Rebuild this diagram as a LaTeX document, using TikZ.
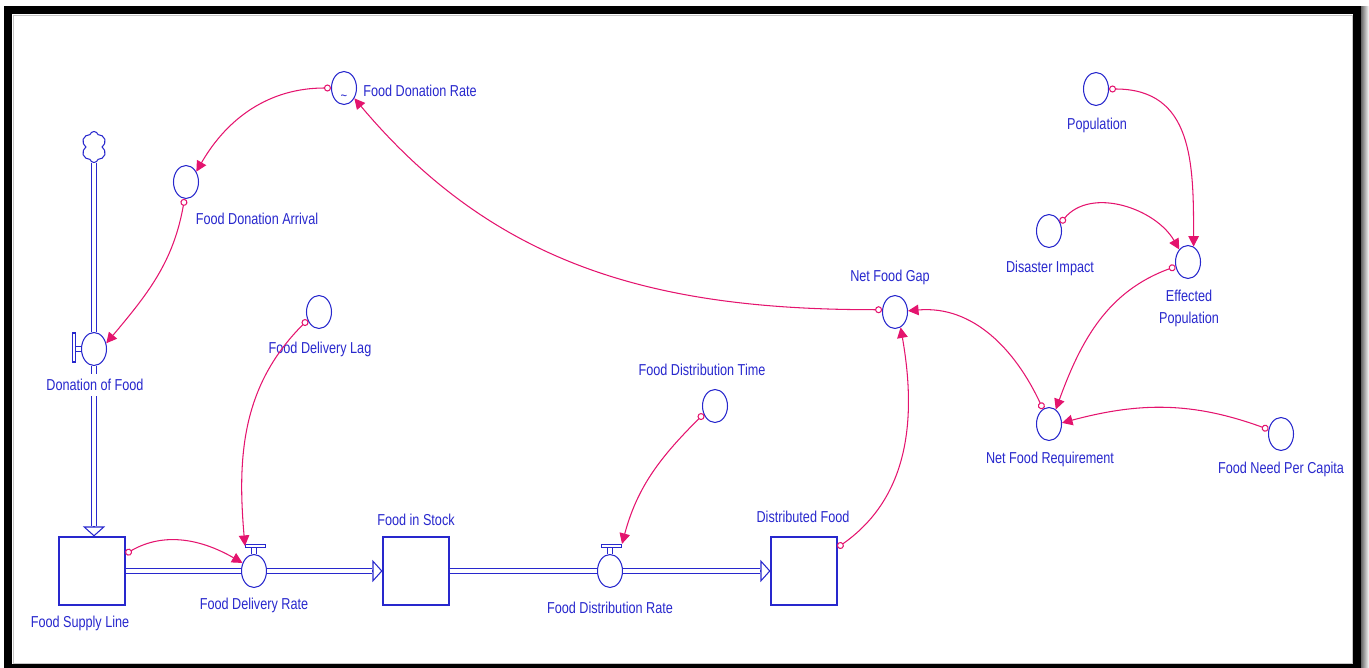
\documentclass[tikz,border=0pt]{standalone}
\usepackage{fontspec}
\setmainfont{Liberation Sans}[FakeStretch=0.8]
\usetikzlibrary{arrows.meta, positioning, shapes.geometric, shapes.symbols, calc}
\definecolor{sdblue}{RGB}{40,40,205}
\definecolor{sdpink}{RGB}{228,20,110}
\tikzset{
  stock/.style   = {rectangle, draw=sdblue, line width=0.6pt, fill=white,
                    minimum width=1.32cm, minimum height=1.36cm},
  aux/.style     = {ellipse, draw=sdblue, line width=0.6pt, fill=white,
                    minimum width=0.5cm, minimum height=0.66cm, inner sep=0pt},
  tap/.style     = {rectangle, draw=sdblue, line width=0.6pt, fill=white, inner sep=0pt,
                    minimum width=0.4cm, minimum height=0.06cm},
  vtap/.style    = {tap, minimum width=0.06cm, minimum height=0.58cm},
  source/.style  = {cloud, cloud puffs=6, cloud ignores aspect, draw=sdblue, line width=0.6pt,
                    minimum width=0.5cm, minimum height=0.62cm, inner sep=0pt},
  flow/.style    = {draw=sdblue, line width=0.6pt, double=white, double distance=2.6pt},
  flowend/.style = {flow, shorten >=0.2cm},
  flowtip/.style = {draw=sdblue, line width=0.6pt, -{Triangle[open, length=0.2cm, width=0.44cm]}},
  stem/.style    = {draw=sdblue, line width=0.5pt, double=white, double distance=2pt},
  link/.style    = {draw=sdpink, line width=0.6pt, {Circle[open, length=4pt]}-{Triangle[length=6pt, width=6pt]}},
  lbl/.style     = {text=sdblue, inner sep=1pt, align=center},
}
\begin{document}
\begin{tikzpicture}[x=0.02cm, y=0.02cm, every node/.style={font=\fontsize{9}{12.5}\selectfont}]
  \useasboundingbox (0,0) rectangle (1369,667);
  % frame
  \begin{scope}
    \clip (0,0) rectangle (1369,667);
    \shade[left color=black!60, right color=white] (1361,-5) rectangle (1369,660);
    \draw[line width=0.16cm] (8,-1) rectangle (1357,657);
    \draw[gray!45, line width=0.4pt] (13,4) rectangle (1352,652);
  \end{scope}

  % stocks
  \node[stock] (fsl) at (92,96) {};
  \node[stock] (fis) at (416,96) {};
  \node[stock] (dfood) at (804,96) {};

  % valves
  \node[aux] (dof) at (94,318) {};
  \node[aux] (fdr) at (254,96) {};
  \node[aux] (fdsr) at (610,96) {};
  \node[vtap, left=0.1cm of dof, yshift=0.03cm] (doftap) {};
  \node[tap, above=0.12cm of fdr, xshift=0.03cm] (fdrtap) {};
  \node[tap, above=0.12cm of fdsr, xshift=0.03cm] (fdsrtap) {};
  \node[source] (src) at (94,520) {};

  % auxiliaries
  \foreach \n/\x/\y in {fdrate/344/579, fdarr/186/485, fdlag/319/355, fdtime/715/261,
                        nfgap/895/355, pop/1096/578, dimp/1049/436, epop/1188/405,
                        nfreq/1049/243, fnpc/1281/233} {
    \node[aux] (\n) at (\x,\y) {};
  }
  \node[text=sdblue, inner sep=0pt, font=\fontsize{8}{8}\selectfont] (fdratetl) at (344,569) {\textasciitilde};

  % pipes
  \draw[flow] (src.south) -- (dof.north);
  \coordinate (fslin) at (dof.south |- fsl.north);
  \draw[flowend] (dof.south) -- (fslin);
  \draw[flowtip] ([yshift=0.2cm]fslin) -- (fslin);
  \draw[flow] (fsl.east) -- (fdr.west);
  \draw[flowend] (fdr.east) -- (fis.west);
  \draw[flowtip] ([xshift=-0.2cm]fis.west) -- (fis.west);
  \draw[flow] (fis.east) -- (fdsr.west);
  \draw[flowend] (fdsr.east) -- (dfood.west);
  \draw[flowtip] ([xshift=-0.2cm]dfood.west) -- (dfood.west);
  \draw[stem] (dof.west) -- (dof.west -| doftap.east);
  \draw[stem] (fdr.north) -- (fdr.north |- fdrtap.south);
  \draw[stem] (fdsr.north) -- (fdsr.north |- fdsrtap.south);

  % labels
  \foreach \n/\x/\y/\txt in {lfdrate/420/576/Food Donation Rate, lfdarr/257/448/Food Donation Arrival,
                             lfdlag/320/318/Food Delivery Lag, lfdr/254/62/Food Delivery Rate,
                             lfsl/80/44/Food Supply Line, lfis/416/147/Food in Stock,
                             lfdsr/610/59/Food Distribution Rate, ldfood/803/150/Distributed Food,
                             lfdtime/702/297/Food Distribution Time, lnfgap/890/390/Net Food Gap,
                             lpop/1097/542/Population, ldimp/1050/399/Disaster Impact,
                             lepop/1189/359/Effected\\Population, lnfreq/1050/208/Net Food Requirement,
                             lfnpc/1281/198/Food Need Per Capita} {
    \node[lbl] (\n) at (\x,\y) {\txt};
  }
  \node[lbl, fill=white, inner sep=3pt] (ldof) at (95,282) {Donation of Food};

  % links
  \draw[link] (fdrate.180) to[out=180, in=60] (fdarr.45);
  \draw[link] (fdarr.-95) to[out=-100, in=50] (dof.25);
  \draw[link] (fdlag.215) to[out=225, in=95] (fdrtap.west);
  \draw[link] (fsl.27) to[out=30, in=150] (fdr.145);
  \draw[link] (fdtime.215) to[out=225, in=75] (fdsrtap.north east);
  \draw[link] (dfood.35) to[out=35, in=-80] (nfgap.-70);
  \draw[link] (nfgap.170) to[out=180, in=-50] (fdrate.-45);
  \draw[link] (nfreq.112) to[out=115, in=5] (nfgap.5);
  \draw[link] (epop.200) to[out=200, in=70] (nfreq.65);
  \draw[link] (pop.0) to[out=0, in=90, looseness=1.2] (epop.70);
  \draw[link] (dimp.35) to[out=50, in=120] (epop.125);
  \draw[link] (fnpc.160) to[out=160, in=15] (nfreq.5);
\end{tikzpicture}
\end{document}
